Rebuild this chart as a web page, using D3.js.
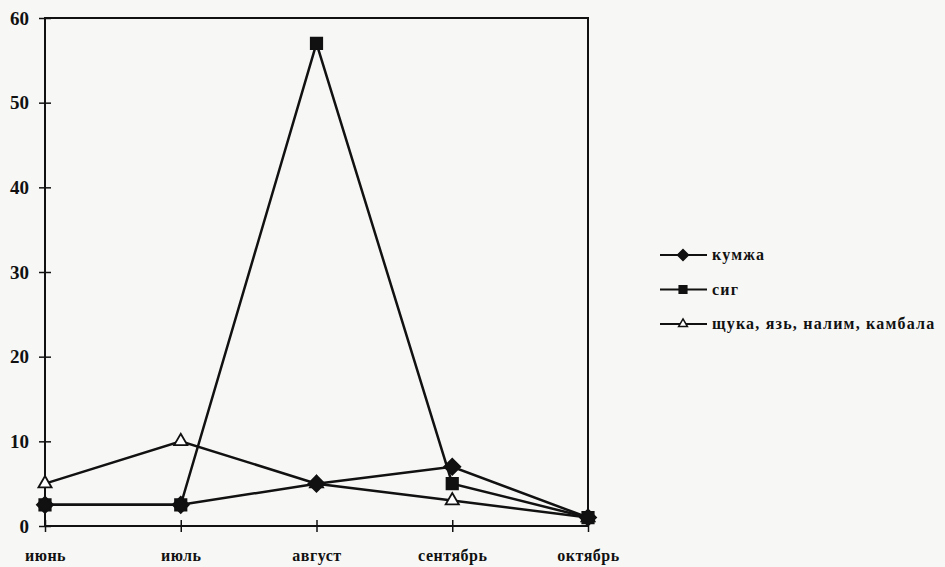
<!DOCTYPE html>
<html><head><meta charset="utf-8">
<script src="https://cdn.jsdelivr.net/npm/d3@7"></script>
<style>body{margin:0;background:#f7f7f5}svg{display:block}</style>
</head><body>
<svg id="c" width="945" height="567"></svg>
<script>
const months = ["июнь","июль","август","сентябрь","октябрь"];
const yTicks = [0,10,20,30,40,50,60];
const kumzha = [2.5, 2.5, 5, 7, 1];
const sig = [2.5, 2.5, 57, 5, 1];
const shchuka = [5, 10, 5, 3, 1];
const seriesNames = ["кумжа","сиг","щука, язь, налим, камбала"];

const svg = d3.select("#c");
const L = 45, R = 588, T = 18, B = 526;
const x = d3.scalePoint().domain(months).range([L, R]);
const y = d3.scaleLinear().domain([0, 60]).range([B, T]);
const ink = "#111";
const serif = "'Liberation Serif','DejaVu Serif',serif";

// frame
svg.append("rect").attr("x", L).attr("y", T).attr("width", R - L).attr("height", B - T)
  .attr("fill", "none").attr("stroke", ink).attr("stroke-width", 2);

// y axis
const ya = svg.append("g").attr("transform", `translate(${L},0)`)
  .call(d3.axisLeft(y).tickValues(yTicks).tickSize(6).tickPadding(10));
ya.select(".domain").remove();
ya.selectAll(".tick line").attr("x2", 6).attr("x1", -6).attr("stroke", ink).attr("stroke-width", 1.5);
ya.selectAll(".tick text").attr("font-family", serif).attr("font-weight", "bold")
  .attr("font-size", 19).attr("fill", ink).attr("x", -16);

// x axis
const xa = svg.append("g").attr("transform", `translate(0,${B})`)
  .call(d3.axisBottom(x).tickSize(6).tickPadding(18));
xa.select(".domain").remove();
xa.selectAll(".tick line").attr("y1", -6).attr("y2", 6).attr("stroke", ink).attr("stroke-width", 1.5);
xa.selectAll(".tick text").attr("font-family", serif).attr("font-weight", "bold")
  .attr("font-size", 16).attr("letter-spacing", 0.5).attr("fill", ink);

const line = d3.line().x((d, i) => x(months[i])).y(d => y(d));
const data = [
  {name: seriesNames[0], vals: kumzha, sym: d3.symbolSquare, rot: 45, size: 130, fill: ink},
  {name: seriesNames[1], vals: sig, sym: d3.symbolSquare, rot: 0, size: 130, fill: ink},
  {name: seriesNames[2], vals: shchuka, sym: d3.symbolTriangle, rot: 0, size: 75, fill: "#fff"}
];

data.slice().reverse().forEach(s => {
  svg.append("path").datum(s.vals).attr("d", line).attr("fill", "none")
    .attr("stroke", ink).attr("stroke-width", 2.5);
});
data.slice().reverse().forEach(s => {
  svg.selectAll(null).data(s.vals).enter().append("path")
    .attr("d", d3.symbol().type(s.sym).size(s.size))
    .attr("transform", (d, i) => `translate(${x(months[i])},${y(d)}) rotate(${s.rot})`)
    .attr("fill", s.fill).attr("stroke", ink).attr("stroke-width", 1.8);
});

// legend
const lg = svg.append("g").attr("transform", "translate(660,255)");
data.forEach((s, i) => {
  const g = lg.append("g").attr("transform", `translate(0,${i * 34.5})`);
  g.append("line").attr("x1", 0).attr("x2", 47).attr("y1", 0).attr("y2", 0)
    .attr("stroke", ink).attr("stroke-width", 2.2);
  g.append("path").attr("d", d3.symbol().type(s.sym).size(s.size * 0.45))
    .attr("transform", `translate(23,0) rotate(${s.rot})`).attr("fill", s.fill).attr("stroke", ink).attr("stroke-width", 1.5);
  g.append("text").attr("x", 52).attr("y", 5).text(s.name)
    .attr("font-family", serif).attr("font-weight", "bold").attr("font-size", 16)
    .attr("letter-spacing", 1.2).attr("fill", ink);
});
</script>
</body></html>
